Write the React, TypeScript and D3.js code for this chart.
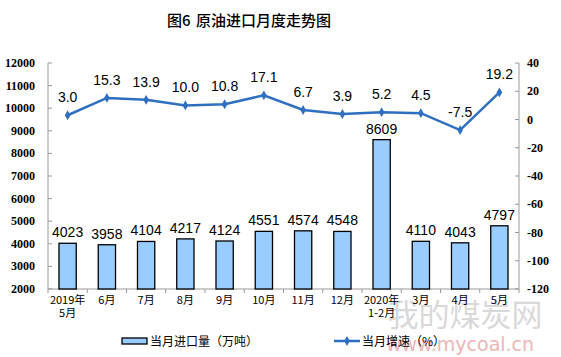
import React from "react";
import * as d3 from "d3";

const categories = ["2019年\n5月", "6月", "7月", "8月", "9月", "10月", "11月", "12月", "2020年\n1-2月", "3月", "4月", "5月"];
const importVolume = [4023, 3958, 4104, 4217, 4124, 4551, 4574, 4548, 8609, 4110, 4043, 4797];
const growthRate = [3.0, 15.3, 13.9, 10.0, 10.8, 17.1, 6.7, 3.9, 5.2, 4.5, -7.5, 19.2];
const leftTicks = [2000, 3000, 4000, 5000, 6000, 7000, 8000, 9000, 10000, 11000, 12000];
const rightTicks = [-120, -100, -80, -60, -40, -20, 0, 20, 40];

const W = 561, H = 357;
const left = 48, right = 519, top = 63, bottom = 289;
const barFill = "#99CCFF";
const lineColor = "#2F6FC0";

export default function App() {
  const x = d3.scaleBand<number>().domain(d3.range(categories.length)).range([left, right]).paddingInner(0.56).paddingOuter(0.28);
  const xc = (i: number) => (x(i) as number) + x.bandwidth() / 2;
  const yL = d3.scaleLinear().domain([2000, 12000]).range([bottom, top]);
  const yR = d3.scaleLinear().domain([-120, 40]).range([bottom, top]);
  const line = d3.line<number>().x((_, i) => xc(i)).y((d) => yR(d));
  const step = (right - left) / categories.length;
  const diamond = d3.symbol().type(d3.symbolDiamond).size(28)() as string;

  return (
    <svg width={W} height={H} style={{ position: "absolute", left: 0, top: 0, background: "#fff" }}>
      <text y={26} fontFamily="'Noto Sans CJK SC', sans-serif" fontSize={15} fontWeight={500} fill="#000">
        <tspan x={167}>图6</tspan>
        <tspan x={196}>原油进口月度走势图</tspan>
      </text>

      {/* watermark */}
      <text x={465} y={326} textAnchor="middle" fontFamily="'Noto Sans CJK SC', sans-serif" fontSize={31} fill="#d0d0d0" opacity={0.8}>我的煤炭网</text>
      <text x={460} y={351} textAnchor="middle" fontFamily="'DejaVu Sans', sans-serif" fontSize={19} fill="#e8a4a4" opacity={0.8}>www.mycoal.cn</text>

      {/* axes */}
      <line x1={left} y1={top} x2={left} y2={bottom} stroke="#999" />
      <line x1={right} y1={top} x2={right} y2={bottom} stroke="#999" />
      <line x1={left} y1={bottom} x2={right} y2={bottom} stroke="#999" />
      {leftTicks.map((t) => (
        <g key={"l" + t}>
          <line x1={left} x2={left + 4} y1={yL(t)} y2={yL(t)} stroke="#999" />
          <text x={35} y={yL(t) + 4} textAnchor="end" fontFamily="'Liberation Serif', serif" fontSize={12} fontWeight="bold" fill="#000">{t}</text>
        </g>
      ))}
      {rightTicks.map((t) => (
        <g key={"r" + t}>
          <line x1={right - 4} x2={right} y1={yR(t)} y2={yR(t)} stroke="#999" />
          <text x={527} y={yR(t) + 4} textAnchor="start" fontFamily="'Liberation Serif', serif" fontSize={12} fontWeight="bold" fill="#000">{t}</text>
        </g>
      ))}
      {d3.range(categories.length + 1).map((i) => (
        <line key={"xt" + i} x1={left + i * step} x2={left + i * step} y1={bottom} y2={bottom + 4} stroke="#999" />
      ))}
      {categories.map((c, i) => (
        <text key={"c" + i} textAnchor="middle" fontFamily="'Noto Sans CJK SC', serif" fontSize={11} fill="#000">
          {c.split("\n").map((s, j) => (
            <tspan key={j} x={xc(i)} y={304 + j * 13}>{s}</tspan>
          ))}
        </text>
      ))}

      {/* bars */}
      {importVolume.map((v, i) => (
        <g key={"b" + i}>
          <rect x={x(i)} y={yL(v)} width={x.bandwidth()} height={bottom - yL(v)} fill={barFill} stroke="#000" strokeWidth={1.3} />
          <text x={xc(i)} y={yL(v) - 6} textAnchor="middle" fontFamily="'Liberation Sans', Arial, sans-serif" fontSize={14} fill="#000">{v}</text>
        </g>
      ))}

      {/* line */}
      <path d={line(growthRate) as string} fill="none" stroke={lineColor} strokeWidth={2.5} />
      {growthRate.map((v, i) => (
        <g key={"p" + i}>
          <path d={diamond} transform={`translate(${xc(i)},${yR(v)})`} fill={lineColor} />
          <text x={xc(i)} y={yR(v) - 13} textAnchor="middle" fontFamily="'Liberation Sans', Arial, sans-serif" fontSize={14} fill="#000">{v.toFixed(1)}</text>
        </g>
      ))}

      {/* legend */}
      <rect x={122} y={338} width={25} height={6} fill={barFill} stroke="#000" strokeWidth={1.3} />
      <text x={150} y={346} fontFamily="'Noto Sans CJK SC', sans-serif" fontSize={12} fill="#000">当月进口量（万吨）</text>
      <line x1={334} x2={360} y1={341} y2={341} stroke={lineColor} strokeWidth={2.5} />
      <path d={diamond} transform="translate(347,341)" fill={lineColor} />
      <text x={362} y={346} fontFamily="'Noto Sans CJK SC', sans-serif" fontSize={12} fill="#000">当月增速（%）</text>
    </svg>
  );
}
